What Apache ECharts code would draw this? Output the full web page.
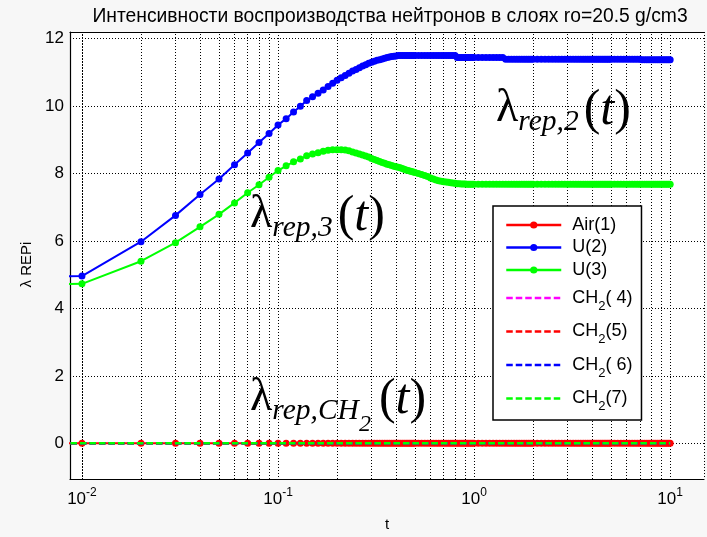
<!DOCTYPE html>
<html><head><meta charset="utf-8">
<script src="https://cdn.jsdelivr.net/npm/echarts@6/dist/echarts.min.js"></script>
<style>html,body{margin:0;padding:0;background:#f7f7f7}#c{width:707px;height:537px}</style>
</head><body><div id="c"></div>
<script>
const TITLE = 'Интенсивности воспроизводства нейтронов в слоях ro=20.5 g/cm3';
const X_NAME = 't';
const Y_NAME = 'λ REPi';
const X_MIN = 0.00869, X_MAX = 14.88;
const Y_MIN = -1.06, Y_MAX = 12.2;
const MINOR_X = [0.009,0.02,0.03,0.04,0.05,0.06,0.07,0.08,0.09,0.2,0.3,0.4,0.5,0.6,0.7,0.8,0.9,2,3,4,5,6,7,8,9];
const NAMES = ['Air(1)','U(2)','U(3)','CH2( 4)','CH2(5)','CH2( 6)','CH2(7)'];

const T = [0.005,
0.01,0.02,0.03,0.04,0.05,0.06,0.07,0.08,0.09,0.10,
0.11,0.12,0.13,0.14,0.15,0.16,0.17,0.18,0.19,0.20,
0.21,0.22,0.23,0.24,0.25,0.26,0.27,0.28,0.29,0.30,
0.31,0.32,0.33,0.34,0.35,0.36,0.37,0.38,0.39,0.40,
0.41,0.42,0.43,0.44,0.45,0.46,0.47,0.48,0.49,0.50,
0.52,0.54,0.56,0.58,0.60,0.62,0.64,0.66,0.68,0.70,
0.72,0.74,0.76,0.78,0.80,0.82,0.84,0.86,0.88,0.90,
0.92,0.94,0.96,0.98,1.00,
1.05,1.10,1.15,1.20,1.25,1.30,1.35,1.40,1.45,1.50,
1.55,1.60,1.65,1.70,1.75,1.80,1.85,1.90,1.95,2.00,
2.1,2.2,2.3,2.4,2.5,2.6,2.7,2.8,2.9,3.0,
3.1,3.2,3.3,3.4,3.5,3.6,3.7,3.8,3.9,4.0,
4.1,4.2,4.3,4.4,4.5,4.6,4.7,4.8,4.9,5.0,
5.2,5.4,5.6,5.8,6.0,6.2,6.4,6.6,6.8,7.0,
7.2,7.4,7.6,7.8,8.0,8.2,8.4,8.6,8.8,9.0,
9.2,9.4,9.6,9.8,10.0];

const U2 = [4.95,
4.96,5.98,6.76,7.38,7.84,8.26,8.61,8.92,9.19,9.44,
9.63,9.83,10.00,10.17,10.28,10.38,10.48,10.58,10.68,10.77,
10.84,10.91,10.98,11.04,11.09,11.14,11.19,11.23,11.27,11.30,
11.33,11.36,11.38,11.40,11.42,11.44,11.46,11.47,11.48,11.49,
11.50,11.50,11.50,11.50,11.50,11.50,11.50,11.50,11.50,11.50,
11.50,11.50,11.50,11.50,11.50,11.50,11.50,11.50,11.50,11.50,
11.50,11.50,11.50,11.50,11.50,11.44,11.44,11.44,11.44,11.44,
11.44,11.44,11.44,11.44,11.44,
11.44,11.44,11.44,11.44,11.44,11.44,11.44,11.44,11.39,11.39,
11.39,11.39,11.39,11.39,11.39,11.39,11.39,11.39,11.39,11.39,
11.39,11.39,11.39,11.39,11.39,11.39,11.39,11.39,11.39,11.39,
11.39,11.39,11.39,11.39,11.39,11.39,11.39,11.39,11.39,11.39,
11.39,11.39,11.39,11.39,11.39,11.39,11.39,11.39,11.39,11.39,
11.39,11.39,11.39,11.39,11.39,11.39,11.39,11.39,11.39,11.39,
11.38,11.38,11.38,11.38,11.38,11.38,11.38,11.38,11.38,11.38,
11.38,11.38,11.38,11.38,11.38];

const U3 = [4.72,
4.73,5.40,5.95,6.42,6.79,7.13,7.43,7.67,7.89,8.09,
8.23,8.35,8.43,8.53,8.58,8.62,8.66,8.69,8.71,8.71,
8.71,8.70,8.68,8.64,8.61,8.58,8.55,8.52,8.49,8.45,
8.42,8.39,8.36,8.33,8.31,8.28,8.26,8.24,8.22,8.20,
8.19,8.17,8.15,8.13,8.11,8.09,8.08,8.06,8.05,8.03,
8.00,7.97,7.94,7.91,7.87,7.84,7.81,7.79,7.77,7.76,
7.75,7.74,7.73,7.72,7.71,7.70,7.70,7.69,7.69,7.69,
7.68,7.68,7.68,7.68,7.68,
7.68,7.68,7.68,7.68,7.68,7.68,7.68,7.68,7.68,7.68,
7.68,7.68,7.68,7.68,7.68,7.68,7.68,7.68,7.68,7.68,
7.68,7.68,7.68,7.68,7.68,7.68,7.68,7.68,7.68,7.68,
7.68,7.68,7.68,7.68,7.68,7.68,7.68,7.68,7.68,7.68,
7.68,7.68,7.68,7.68,7.68,7.68,7.68,7.68,7.68,7.68,
7.68,7.68,7.68,7.68,7.68,7.68,7.68,7.68,7.68,7.68,
7.68,7.68,7.68,7.68,7.68,7.68,7.68,7.68,7.68,7.68,
7.68,7.68,7.68,7.68,7.68];

const ZERO = [0,
0,0,0,0,0,0,0,0,0,0,
0,0,0,0,0,0,0,0,0,0,
0,0,0,0,0,0,0,0,0,0,
0,0,0,0,0,0,0,0,0,0,
0,0,0,0,0,0,0,0,0,0,
0,0,0,0,0,0,0,0,0,0,
0,0,0,0,0,0,0,0,0,0,
0,0,0,0,0,0,0,0,0,0,
0,0,0,0,0,0,0,0,0,0,
0,0,0,0,0,0,0,0,0,0,
0,0,0,0,0,0,0,0,0,0,
0,0,0,0,0,0,0,0,0,0,
0,0,0,0,0,0,0,0,0,0,
0,0,0,0,0,0,0,0,0,0,
0,0,0,0,0,0,0,0,0,0];

const SANS = '"Liberation Sans", Arial, sans-serif';
const SERIF = '"Liberation Serif", "Times New Roman", serif';
const pts = vals => T.map((t, i) => [t, vals[i]]);
const isDecade = v => Math.abs(Math.log10(v) - Math.round(Math.log10(v))) < 1e-6;

function solid(name, color, vals) {
  return { type: 'line', name, data: pts(vals), symbol: 'circle', symbolSize: 7,
    lineStyle: { color, width: 2 }, itemStyle: { color }, showAllSymbol: true, z: 3 };
}
function dashed(name, color, vals) {
  return { type: 'line', name, data: pts(vals), symbol: 'none',
    lineStyle: { color, width: 2.5, type: [6.5, 3] }, itemStyle: { color }, z: 4 };
}

function lam(sub) {
  return '{l|λ}{s|' + sub + '}{p|(}{t|t}{q|)}';
}
const lamRich = {
  l: { fontFamily: SERIF, fontSize: 46, lineHeight: 46, verticalAlign: 'top', fill: '#000' },
  s: { fontFamily: SERIF, fontStyle: 'italic', fontSize: 29.5, lineHeight: 28, verticalAlign: 'top', padding: [22, 0, 0, 0], fill: '#000' },
  ss: { fontFamily: SERIF, fontStyle: 'italic', fontSize: 24, lineHeight: 24, verticalAlign: 'top', padding: [38, 3, 0, 0], fill: '#000' },
  p: { fontFamily: SERIF, fontSize: 50, lineHeight: 43, verticalAlign: 'top', padding: [0, 0, 0, 5], fill: '#000' },
  q: { fontFamily: SERIF, fontSize: 50, lineHeight: 43, verticalAlign: 'top', fill: '#000' },
  t: { fontFamily: SERIF, fontStyle: 'italic', fontSize: 50, lineHeight: 43, verticalAlign: 'top', fill: '#000' }
};

const chart = echarts.init(document.getElementById('c'));
chart.setOption({
  animation: false,
  backgroundColor: '#f7f7f7',
  title: { text: TITLE, left: 390, top: 7, padding: 0, textAlign: 'center',
    textStyle: { fontFamily: SANS, fontSize: 19.3, fontWeight: 'normal', color: '#000' } },
  grid: { left: 70, right: 0, top: 32, bottom: 55, show: true, backgroundColor: '#fff', borderWidth: 0 },
  xAxis: [{
    type: 'log', logBase: 10, min: X_MIN, max: X_MAX,
    name: X_NAME, nameLocation: 'middle', nameGap: 38,
    nameTextStyle: { fontFamily: SANS, fontSize: 15, color: '#000' },
    axisLine: { show: true, onZero: false, lineStyle: { color: '#000', width: 1.2 } },
    axisTick: { show: false },
    splitLine: { show: true, lineStyle: { color: '#000', type: [1, 2], width: 1 } },
    axisLabel: { margin: 8, color: '#000',
      formatter: v => isDecade(v) ? '{b|10}{s|' + Math.round(Math.log10(v)) + '}' : '',
      rich: { b: { fontFamily: SANS, fontSize: 17, lineHeight: 20, padding: [4, 0, 0, 0], verticalAlign: 'top', color: '#000' },
              s: { fontFamily: SANS, fontSize: 12, lineHeight: 12, verticalAlign: 'top', color: '#000' } } }
  }, {
    type: 'log', logBase: 10, min: X_MIN, max: X_MAX, position: 'top',
    axisLine: { show: true, onZero: false, lineStyle: { color: '#000', width: 1.2 } },
    axisTick: { show: false }, axisLabel: { show: false }, splitLine: { show: false }
  }],
  yAxis: {
    type: 'value', min: Y_MIN, max: Y_MAX, splitNumber: 7,
    name: Y_NAME, nameLocation: 'middle', nameGap: 33, nameRotate: 90,
    nameTextStyle: { fontFamily: SANS, fontSize: 15, color: '#000', padding: [0, 18, 0, 0] },
    axisLine: { show: true, onZero: false, lineStyle: { color: '#000', width: 1.2 } },
    axisTick: { show: false },
    splitLine: { show: true, lineStyle: { color: '#000', type: [1, 2], width: 1 } },
    axisLabel: { margin: 6, fontFamily: SANS, fontSize: 17, color: '#000',
      formatter: v => (Math.abs(v / 2 - Math.round(v / 2)) < 1e-6) ? String(Math.round(v)) : '' }
  },
  legend: {
    orient: 'vertical', left: 493, top: 206, padding: [10, 9, 7, 12], z: 10,
    itemWidth: 55, itemHeight: 9, itemGap: 4.5,
    backgroundColor: '#fff', borderColor: '#000', borderWidth: 1.5, borderRadius: 0,
    lineStyle: { width: 2.5 },
    data: NAMES.map((n, i) => i < 3 ? { name: n } : { name: n, itemStyle: { opacity: 0 } }),
    formatter: name => name.startsWith('CH2') ? '{c|CH}{d|2}{r|' + name.slice(3) + '}' : '{n|' + name + '}',
    textStyle: { fontFamily: SANS, fontSize: 18, color: '#000',
      rich: {
        n: { fontFamily: SANS, fontSize: 18, lineHeight: 23, verticalAlign: 'middle', padding: [0, 0, 0, 6], color: '#000' },
        c: { fontFamily: SANS, fontSize: 18, lineHeight: 20, verticalAlign: 'middle', padding: [0, 0, 0, 6], color: '#000' },
        d: { fontFamily: SANS, fontSize: 13, lineHeight: 12, verticalAlign: 'middle', padding: [16, 0, 0, 0], color: '#000' },
        r: { fontFamily: SANS, fontSize: 18, lineHeight: 20, verticalAlign: 'middle', color: '#000' }
      } }
  },
  graphic: [
    { type: 'text', left: 496, top: 85.5, z: 10, style: { text: lam('rep,2'), rich: lamRich } },
    { type: 'text', left: 250, top: 191.5, z: 10, style: { text: lam('rep,3'), rich: lamRich } },
    { type: 'text', left: 250, top: 374.5, z: 10, style: { text: '{l|λ}{s|rep,CH}{ss|2}{p|(}{t|t}{q|)}', rich: lamRich } }
  ],
  series: [
    { type: 'line', name: '_grid', data: [], silent: true, z: 1,
      markLine: { silent: true, z: 1, symbol: ['none', 'none'], label: { show: false }, animation: false,
        lineStyle: { color: '#000', type: [1, 2], width: 1 },
        data: MINOR_X.map(v => ({ xAxis: v })) } },
    solid(NAMES[0], '#ff0000', ZERO),
    solid(NAMES[1], '#0000ff', U2),
    solid(NAMES[2], '#00ff00', U3),
    dashed(NAMES[3], '#ff00ff', ZERO),
    dashed(NAMES[4], '#ff0000', ZERO),
    dashed(NAMES[5], '#0000ff', ZERO),
    dashed(NAMES[6], '#00ff00', ZERO)
  ]
});
</script>
</body></html>
